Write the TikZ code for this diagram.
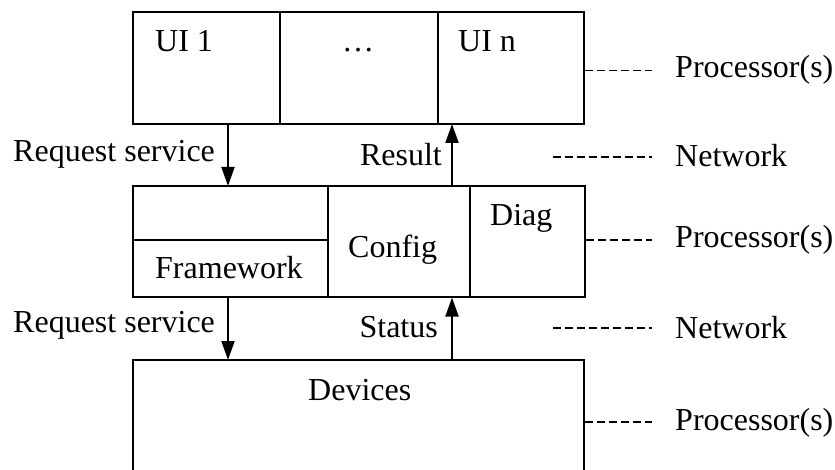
\documentclass[tikz,border=0pt]{standalone}
\usepackage{fontspec}
\setmainfont{Liberation Serif}
\usetikzlibrary{arrows.meta}
\begin{document}
\begin{tikzpicture}[x=1pt,y=-1pt,
  box/.style={line width=2pt},
  lbl/.style={inner sep=0pt,anchor=base west,font=\fontsize{32}{38}\selectfont},
  lble/.style={lbl,anchor=base east},
  arr/.style={line width=2pt,-{Triangle[length=19pt,width=13pt]}},
  dsh/.style={line width=1.5pt,dash pattern=on 8pt off 4pt}]
\useasboundingbox (0,0) rectangle (835,470);
% top box
\draw[box] (133,12.5) rectangle (584,124);
\draw[box] (280,12.5) -- (280,124);
\draw[box] (437.5,12.5) -- (437.5,124);
\node[lbl] (ui1) at (155,52) {UI 1};
\node[lbl,anchor=base] (dots) at (358,52) {\dots};
\node[lbl] (uin) at (458,52) {UI n};
% middle box
\draw[box] (133,186) rectangle (585,297.5);
\draw[box] (327.5,186) -- (327.5,297.5);
\draw[box] (470,186) -- (470,297.5);
\draw[box] (133,240) -- (327.5,240);
\node[lbl] (fw) at (155,279) {Framework};
\node[lbl] (cfg) at (348,258) {Config};
\node[lbl] (diag) at (490,226) {Diag};
% bottom box (open at bottom)
\draw[box] (133,475) -- (133,360) -- (584,360) -- (584,475);
\node[lbl] (dev) at (308,400) {Devices};
% arrows
\coordinate (a1s) at (228,124); \coordinate (a1e) at (228,186);
\coordinate (a2s) at (452,186); \coordinate (a2e) at (452,124);
\coordinate (a3s) at (228,297.5); \coordinate (a3e) at (228,360);
\coordinate (a4s) at (452,360); \coordinate (a4e) at (452,297.5);
\draw[arr] (a1s) -- (a1e);
\draw[arr] (a2s) -- (a2e);
\draw[arr] (a3s) -- (a3e);
\draw[arr] (a4s) -- (a4e);
\node[lbl] (rq1) at (13,162) {Request service};
\node[lbl] (rq2) at (13,332) {Request service};
\node[lble] (res) at (442,166) {Result};
\node[lble] (st) at (438,337) {Status};
% right labels
\node[lbl] (p1) at (675,78) {Processor(s)};
\node[lbl] (n1) at (675,167) {Network};
\node[lbl] (p2) at (675,248) {Processor(s)};
\node[lbl] (n2) at (675,338) {Network};
\node[lbl] (p3) at (675,430) {Processor(s)};
\draw[dsh] (585,70.5) -- (652,70.5);
\draw[dsh] (553,157) -- (652,157);
\draw[dsh] (586,240) -- (652,240);
\draw[dsh] (553,328) -- (652,328);
\draw[dsh] (585,422) -- (652,422);
\end{tikzpicture}
\end{document}
